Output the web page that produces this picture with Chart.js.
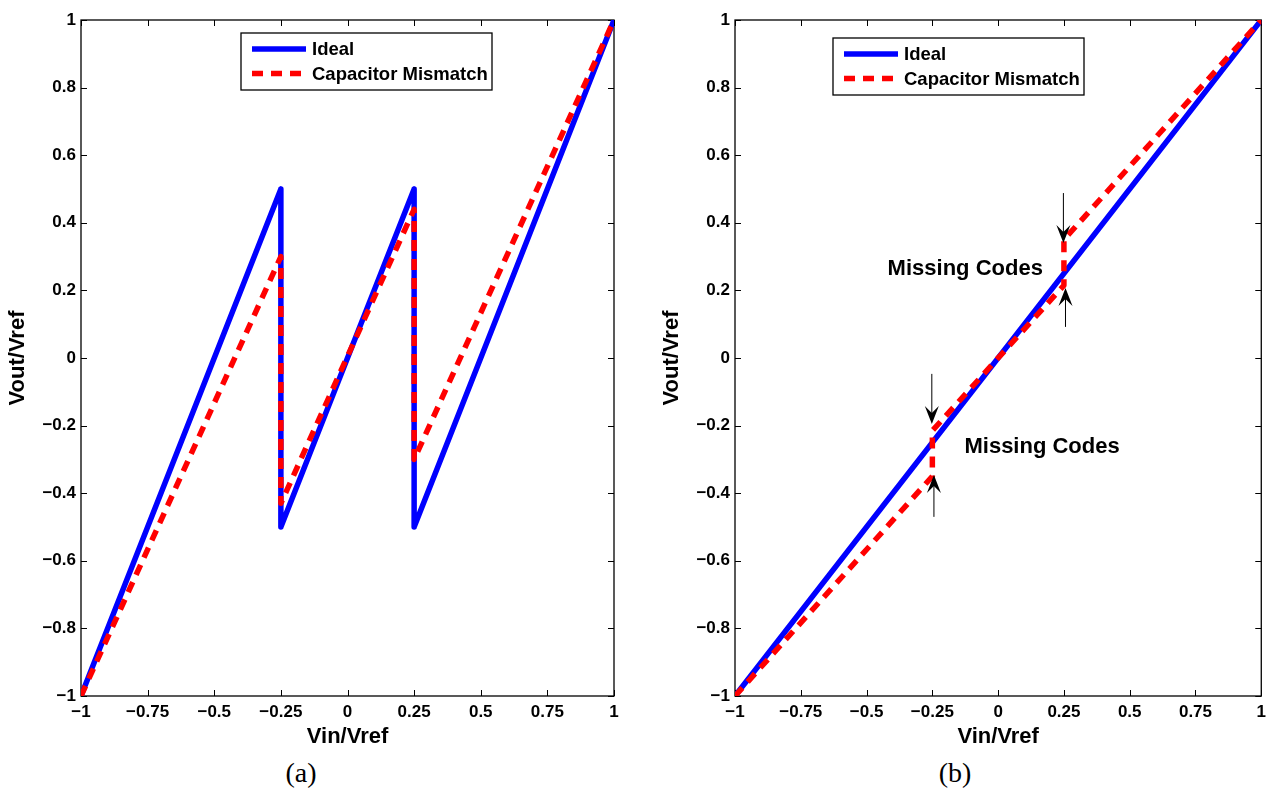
<!DOCTYPE html>
<html>
<head>
<meta charset="utf-8">
<script src="https://cdn.jsdelivr.net/npm/chart.js@4.4.1/dist/chart.umd.min.js"></script>
<style>
  body { margin: 0; background: #fff; width: 1272px; height: 795px; overflow: hidden; position: relative; }
  .panel { position: absolute; top: 0; height: 748px; }
  #panelA { left: 0; width: 640px; }
  #panelB { left: 654px; width: 618px; }
  .caption { position: absolute; top: 757px; line-height: 32px; font-family: "Liberation Serif", serif; font-size: 28px; transform: translateX(-50%); color: #000; }
</style>
</head>
<body>
<div class="panel" id="panelA"><canvas id="chartA"></canvas></div>
<div class="panel" id="panelB"><canvas id="chartB"></canvas></div>
<div class="caption" style="left:301px">(a)</div>
<div class="caption" style="left:955px">(b)</div>
<script>
// tick values and labels shared by both panels
const xTicks = [-1, -0.75, -0.5, -0.25, 0, 0.25, 0.5, 0.75, 1];
const xTickLabels = ["−1", "−0.75", "−0.5", "−0.25", "0", "0.25", "0.5", "0.75", "1"];
const yTicks = [-1, -0.8, -0.6, -0.4, -0.2, 0, 0.2, 0.4, 0.6, 0.8, 1];
const yTickLabels = ["−1", "−0.8", "−0.6", "−0.4", "−0.2", "0", "0.2", "0.4", "0.6", "0.8", "1"];

const seriesNames = ["Ideal", "Capacitor Mismatch"];

// (a) stage residue
const idealAx = [-1, -0.25, -0.25, 0.25, 0.25, 1];
const idealAy = [-1, 0.5, -0.5, 0.5, -0.5, 1];
const mismatchAx = [-1, -0.25, -0.25, 0.25, 0.25, 1];
const mismatchAy = [-1, 0.3, -0.43, 0.44, -0.3, 1];

// (b) overall transfer
const idealBx = [-1, 1];
const idealBy = [-1, 1];
const mismatchBx = [-1, -0.25, -0.25, 0.25, 0.25, 1];
const mismatchBy = [-1, -0.35, -0.215, 0.215, 0.35, 1];

// annotations in (b)
const noteText = ["Missing Codes", "Missing Codes"];
const noteX = [-0.42, -0.128];
const noteY = [0.263, -0.263];
const arrowX = [0.248, 0.256, -0.252, -0.244];
const arrowFromY = [0.488, 0.092, -0.047, -0.47];
const arrowToY = [0.34, 0.207, -0.195, -0.346];

const FONT = "'Liberation Sans', Arial, Helvetica, sans-serif";

function zip(xs, ys) {
    return xs.map((x, i) => ({ x: x, y: ys[i] }));
}

function makeDatasets(ix, iy, mx, my) {
    return [{
        label: seriesNames[0],
        data: zip(ix, iy),
        showLine: true,
        borderColor: "#0000ff",
        borderWidth: 5.5,
        borderCapStyle: "round",
        borderJoinStyle: "round",
        pointRadius: 0,
        clip: 0,
        order: 2
    }, {
        label: seriesNames[1],
        data: zip(mx, my),
        showLine: true,
        borderColor: "#ff0000",
        borderWidth: 5.5,
        borderDash: [11, 8],
        borderCapStyle: "butt",
        borderJoinStyle: "round",
        pointRadius: 0,
        clip: 0,
        order: 1
    }];
}

// box + inward ticks on all four sides, MATLAB style
const framePlugin = {
    id: "frame",
    beforeDatasetsDraw(chart) {
        const { ctx, chartArea: a, scales } = chart;
        ctx.save();
        ctx.strokeStyle = "#000";
        ctx.lineWidth = 1;
        ctx.beginPath();
        xTicks.forEach(v => {
            const px = Math.round(scales.x.getPixelForValue(v)) + 0.5;
            ctx.moveTo(px, a.bottom); ctx.lineTo(px, a.bottom - 6);
            ctx.moveTo(px, a.top); ctx.lineTo(px, a.top + 6);
        });
        yTicks.forEach(v => {
            const py = Math.round(scales.y.getPixelForValue(v)) + 0.5;
            ctx.moveTo(a.left, py); ctx.lineTo(a.left + 6, py);
            ctx.moveTo(a.right, py); ctx.lineTo(a.right - 6, py);
        });
        ctx.stroke();
        ctx.lineWidth = 1.3;
        ctx.strokeRect(a.left, a.top, a.right - a.left, a.bottom - a.top);
        ctx.restore();
    }
};

const legendPlugin = {
    id: "boxLegend",
    afterDraw(chart, args, opts) {
        const { ctx, chartArea: a } = chart;
        const x0 = a.left + opts.dx, y0 = a.top + opts.dy;
        ctx.save();
        ctx.fillStyle = "#fff";
        ctx.fillRect(x0, y0, opts.w, opts.h);
        ctx.strokeStyle = "#000";
        ctx.lineWidth = 1.3;
        ctx.strokeRect(x0, y0, opts.w, opts.h);
        chart.data.datasets.forEach((ds, i) => {
            const ly = y0 + 16 + i * 24.5;
            ctx.beginPath();
            ctx.strokeStyle = ds.borderColor;
            ctx.lineWidth = ds.borderWidth;
            ctx.lineCap = "butt";
            ctx.setLineDash(ds.borderDash || []);
            ctx.moveTo(x0 + 11, ly);
            ctx.lineTo(x0 + 65, ly);
            ctx.stroke();
            ctx.setLineDash([]);
            ctx.fillStyle = "#000";
            ctx.font = "bold 18.5px " + FONT;
            ctx.textAlign = "left";
            ctx.textBaseline = "middle";
            ctx.fillText(ds.label, x0 + 71, ly + 1);
        });
        ctx.restore();
    }
};

const notesPlugin = {
    id: "notes",
    afterDraw(chart) {
        const { ctx, scales } = chart;
        ctx.save();
        ctx.fillStyle = "#000";
        ctx.font = "bold 22px " + FONT;
        ctx.textAlign = "left";
        ctx.textBaseline = "middle";
        noteText.forEach((t, i) => {
            ctx.fillText(t, scales.x.getPixelForValue(noteX[i]), scales.y.getPixelForValue(noteY[i]));
        });
        ctx.strokeStyle = "#000";
        ctx.lineWidth = 1;
        arrowX.forEach((xv, i) => {
            const px = scales.x.getPixelForValue(xv);
            const p0 = scales.y.getPixelForValue(arrowFromY[i]);
            const p1 = scales.y.getPixelForValue(arrowToY[i]);
            const dir = p1 > p0 ? 1 : -1;
            ctx.beginPath();
            ctx.moveTo(px, p0);
            ctx.lineTo(px, p1 - dir * 10);
            ctx.stroke();
            ctx.beginPath();
            ctx.moveTo(px, p1);
            ctx.lineTo(px - 7, p1 - dir * 18);
            ctx.lineTo(px, p1 - dir * 11);
            ctx.lineTo(px + 7, p1 - dir * 18);
            ctx.closePath();
            ctx.fill();
        });
        ctx.restore();
    }
};

function makeChart(id, datasets, padRight, legendOpts, extra) {
    const tickFont = { family: FONT, size: 17, weight: "bold" };
    return new Chart(document.getElementById(id), {
        type: "scatter",
        data: { datasets: datasets },
        options: {
            responsive: true,
            maintainAspectRatio: false,
            animation: false,
            devicePixelRatio: 1,
            layout: { padding: { top: 20, right: padRight, bottom: 0, left: 0 } },
            plugins: {
                legend: { display: false },
                tooltip: { enabled: false },
                boxLegend: legendOpts
            },
            scales: {
                x: {
                    type: "linear", min: -1, max: 1,
                    afterBuildTicks: s => { s.ticks = xTicks.map(v => ({ value: v })); },
                    ticks: { callback: (v, i) => xTickLabels[i], font: tickFont, color: "#000", padding: 6, maxRotation: 0, autoSkip: false },
                    grid: { display: false, drawTicks: false, tickLength: 0 },
                    border: { display: false },
                    title: { display: true, text: "Vin/Vref", color: "#000", padding: 0, font: { family: FONT, size: 22, weight: "bold", lineHeight: 1 } },
                    afterFit: s => { s.height = 52; }
                },
                y: {
                    type: "linear", min: -1, max: 1,
                    afterBuildTicks: s => { s.ticks = yTicks.map(v => ({ value: v })); },
                    ticks: { callback: (v, i) => yTickLabels[i], font: tickFont, color: "#000", padding: 5, autoSkip: false },
                    grid: { display: false, drawTicks: false, tickLength: 0 },
                    border: { display: false },
                    title: { display: true, text: "Vout/Vref", color: "#000", padding: { top: 7, bottom: 0 }, font: { family: FONT, size: 22, weight: "bold", lineHeight: 1 } },
                    afterFit: s => { s.width = 81; }
                }
            }
        },
        plugins: [framePlugin, legendPlugin].concat(extra)
    });
}

makeChart("chartA", makeDatasets(idealAx, idealAy, mismatchAx, mismatchAy), 26,
    { dx: 160, dy: 13, w: 251, h: 57 }, []);
makeChart("chartB", makeDatasets(idealBx, idealBy, mismatchBx, mismatchBy), 5,
    { dx: 98, dy: 18, w: 251, h: 57 }, [notesPlugin]);
</script>
</body>
</html>
